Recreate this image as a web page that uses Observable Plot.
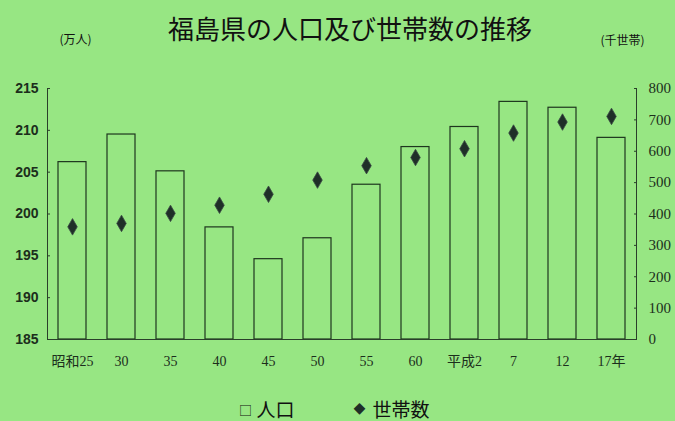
<!DOCTYPE html>
<html><head><meta charset="utf-8">
<script src="https://cdn.jsdelivr.net/npm/d3@7"></script>
<script src="https://cdn.jsdelivr.net/npm/@observablehq/plot@0.6"></script>
<style>
html,body{margin:0;padding:0;background:#97E683;}
#chart svg{background:#97E683;}
</style>
</head><body><div id="chart"></div>
<script>
const years = ["昭和25","30","35","40","45","50","55","60","平成2","7","12","17年"];
const population = [206.2,209.5,205.1,198.4,194.6,197.1,203.5,208.0,210.4,213.4,212.7,209.1];
const households = [359,370,402,428,463,508,554,580,608,658,693,711];
const popTicks = [185,190,195,200,205,210,215];
const hhTicks = [0,100,200,300,400,500,600,700,800];

const data = years.map((y,i)=>({year:y, pop:population[i], hh:households[i]}));
const toPop = h => 185 + h*30/800;
const ink = "#1c2e1c";

const plot = Plot.plot({
  width:675, height:421,
  marginLeft:47, marginRight:39, marginTop:88, marginBottom:82,
  style:{background:"#97E683", color:ink, overflow:"visible"},
  x:{domain:years, paddingInner:0.43, paddingOuter:0.2, label:null},
  y:{domain:[185,215], label:null},
  marks:[
    Plot.barY(data,{x:"year", y1:185, y2:"pop", fill:"none", stroke:"#1e361e", strokeWidth:1.2}),
    Plot.dot(data,{x:"year", y:d=>toPop(d.hh), symbol:"diamond", r:5, fill:"#1f2f28", stroke:"#3a4a44", strokeWidth:0.8}),
    Plot.frame({anchor:"left", stroke:"#2a3f2a"}),
    Plot.frame({anchor:"right", stroke:"#2a3f2a"}),
    Plot.frame({anchor:"bottom", stroke:"#2a3f2a"}),
    Plot.axisY({anchor:"left", ticks:popTicks, tickSize:-3, tickPadding:12, label:null,
      fontFamily:"Liberation Sans", fontWeight:"bold", fontSize:14, stroke:"#2a3f2a"}),
    Plot.axisY({anchor:"right", ticks:hhTicks.map(toPop), tickFormat:v=>String(Math.round((v-185)*800/30)),
      tickSize:-3, tickPadding:15, label:null, fontFamily:"Liberation Serif", fontSize:15, stroke:"#2a3f2a"}),
    Plot.axisX({anchor:"bottom", tickSize:0, tickPadding:17, label:null,
      fontFamily:"Liberation Serif, Noto Sans CJK JP", fontSize:14}),
    Plot.text(["福島県の人口及び世帯数の推移"],{frameAnchor:"top", dx:8, dy:-58, lineAnchor:"middle",
      fontFamily:"Noto Sans CJK JP", fontSize:26, fill:"#111"}),
    Plot.text(["(万人)"],{frameAnchor:"top-left", dx:28, dy:-48, textAnchor:"middle", lineAnchor:"middle",
      fontFamily:"Noto Sans CJK JP", fontSize:12, fill:"#111"}),
    Plot.text(["(千世帯)"],{frameAnchor:"top-right", dx:-14, dy:-47, textAnchor:"middle", lineAnchor:"middle",
      fontFamily:"Noto Sans CJK JP", fontSize:12, fill:"#111"}),
    Plot.text(["□"],{frameAnchor:"bottom-left", dx:198, dy:71, textAnchor:"middle", lineAnchor:"middle",
      fontFamily:"Noto Sans CJK JP", fontSize:13, fill:"#111"}),
    Plot.text(["人口"],{frameAnchor:"bottom-left", dx:209, dy:71, textAnchor:"start", lineAnchor:"middle",
      fontFamily:"Noto Sans CJK JP", fontSize:19, fill:"#111"}),
    Plot.text(["◆"],{frameAnchor:"bottom-left", dx:312, dy:71, textAnchor:"middle", lineAnchor:"middle",
      fontFamily:"Noto Sans CJK JP", fontSize:12, fill:"#1f2f28"}),
    Plot.text(["世帯数"],{frameAnchor:"bottom-left", dx:325, dy:71, textAnchor:"start", lineAnchor:"middle",
      fontFamily:"Noto Sans CJK JP", fontSize:19, fill:"#111"})
  ]
});
document.getElementById("chart").appendChild(plot);
</script>
</body></html>
